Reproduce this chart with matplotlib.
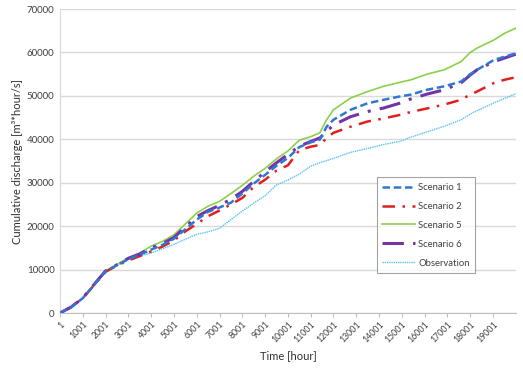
import matplotlib
matplotlib.use("Agg")
import matplotlib.pyplot as plt

plt.rcParams['font.family'] = ['Lato', 'DejaVu Sans']

# Hours (category index) and cumulative discharge values
hours = [1, 500, 1000, 1500, 2000, 2500, 3000, 3500, 4000, 4500, 5000, 5500,
         6000, 6500, 7000, 7500, 8000, 8500, 9000, 9500, 10000, 10500, 11000,
         11400, 11700, 12000, 12750, 13500, 14200, 14900, 15400, 16100, 16860,
         17600, 18000, 18300, 19050, 19500, 20000]

scenario1 = [0, 1400, 3400, 6500, 9600, 11000, 12400, 13400, 14600, 15700, 17100, 19300,
             21500, 23300, 24300, 25400, 27500, 29800, 31800, 33900, 35700, 38200, 39300,
             39900, 42900, 44500, 46800, 48300, 49100, 49850, 50300, 51400, 52200,
             53300, 55000, 56000, 58300, 59000, 59800]

scenario2 = [0, 1400, 3400, 6400, 9500, 10900, 12100, 13100, 14200, 15300, 16700, 18800,
             20500, 22300, 23600, 25000, 26500, 29000, 30700, 32800, 34000, 37500, 38300,
             38700, 40300, 41500, 42900, 44100, 44800, 45600, 46300, 47100, 48000,
             49100, 50300, 51000, 53000, 53700, 54300]

scenario5 = [0, 1400, 3500, 6600, 9700, 11200, 12700, 13800, 15400, 16500, 18000, 20500,
             23000, 24600, 25700, 27500, 29400, 31500, 33300, 35500, 37300, 39800, 40600,
             41500, 44500, 46800, 49500, 51000, 52200, 53100, 53700, 55000, 56000,
             57900, 60000, 61000, 62900, 64400, 65600]

scenario6 = [0, 1400, 3500, 6600, 9700, 11100, 12600, 13600, 15000, 16000, 17400, 19800,
             22200, 23600, 24800, 26200, 28000, 30300, 32500, 34600, 36500, 38400, 39500,
             40300, 41800, 43300, 45200, 46400, 47200, 48300, 49300, 50400, 51400,
             53000, 54800, 56000, 57900, 58700, 59600]

observation = [0, 1400, 3400, 6500, 9500, 10900, 12300, 13200, 13800, 14800, 15800, 17000,
               18100, 18700, 19500, 21500, 23500, 25300, 27000, 29500, 30600, 32000, 33800,
               34600, 35100, 35600, 37000, 37900, 38800, 39500, 40500, 41700, 43000,
               44500, 45800, 46600, 48400, 49400, 50500]

tick_positions = list(range(1, 19002, 1000))
tick_labels = [str(t) for t in tick_positions]
yticks = list(range(0, 70001, 10000))

fig = plt.figure(figsize=(5.23, 3.71), dpi=100)
ax = fig.add_axes([0.1147, 0.1563, 0.872, 0.8194])

ax.plot(hours, scenario1, color='#2F78D0', lw=1.8, ls=(0, (3, 1.5)), label='Scenario 1', zorder=4)
ax.plot(hours, scenario2, color='#E0201C', lw=1.8, ls=(0, (5, 3, 1, 3)), label='Scenario 2', zorder=3)
ax.plot(hours, scenario5, color='#8CD04A', lw=1.2, ls='-', label='Scenario 5', zorder=2)
ax.plot(hours, scenario6, color='#7434A8', lw=2.2, ls=(0, (7, 3, 1, 3)), label='Scenario 6', zorder=3)
ax.plot(hours, observation, color='#58C4EE', lw=1.0, ls=(0, (1, 0.6)), label='Observation', zorder=2)

ax.set_xlim(1, 20010)
ax.set_ylim(0, 70000)
ax.set_yticks(yticks)
ax.set_yticklabels([str(v) for v in yticks], fontsize=7, color='#404040')
ax.set_xticks(tick_positions)
ax.set_xticklabels(tick_labels, rotation=45, ha='right', rotation_mode='anchor', fontsize=6.3, color='#404040')
ax.tick_params(axis='y', length=0, pad=4)
ax.tick_params(axis='x', length=3, color='#BFBFBF', pad=2)

ax.grid(axis='y', color='#D9D9D9', lw=1.0)
ax.set_axisbelow(True)
for s in ['top', 'right']:
    ax.spines[s].set_visible(False)
ax.spines['left'].set_color('#D9D9D9')
ax.spines['bottom'].set_color('#BFBFBF')

ax.set_xlabel('Time [hour]', fontsize=8, color='#303030', labelpad=4)
ax.set_ylabel('Cumulative discharge [m³*hour/s]', fontsize=8, color='#303030', labelpad=3)

leg = ax.legend(loc='upper left', bbox_to_anchor=(0.684, 0.462), fontsize=6.8, frameon=True,
                fancybox=False, edgecolor='#8C8C8C', handlelength=3.5, handletextpad=0.3,
                labelspacing=1.05, borderpad=0.6)
leg.get_frame().set_linewidth(0.8)
for t in leg.get_texts():
    t.set_color('#404040')

fig.savefig('out.png', dpi=100)
